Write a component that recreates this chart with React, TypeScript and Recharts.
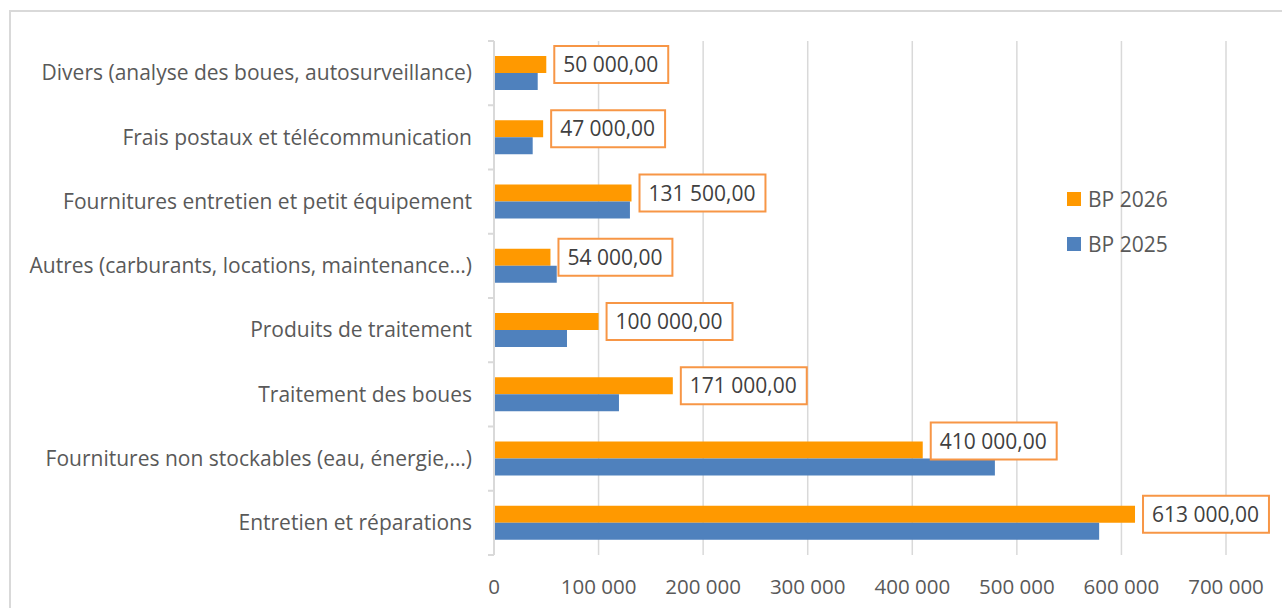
import React from "react";
import { BarChart, Bar, XAxis, YAxis, CartesianGrid, Legend, LabelList } from "recharts";

const CATEGORIES = [
  "Divers (analyse des boues, autosurveillance)",
  "Frais postaux et télécommunication",
  "Fournitures entretien et petit équipement",
  "Autres (carburants, locations, maintenance…)",
  "Produits de traitement",
  "Traitement des boues",
  "Fournitures non stockables (eau, énergie,…)",
  "Entretien et réparations",
];
const BP_2025 = [41800, 37000, 130000, 60000, 69800, 119500, 479000, 578700];
const BP_2026 = [50000, 47000, 131500, 54000, 100000, 171000, 410000, 613000];
const X_TICKS = [0, 100000, 200000, 300000, 400000, 500000, 600000, 700000];

const data = CATEGORIES.map((name, i) => ({ name, bp2025: BP_2025[i], bp2026: BP_2026[i] }));

const FONT = "'Open Sans', 'Noto Sans', sans-serif";
const TEXT = "#595959";
const GRID = "#d9d9d9";
const ORANGE = "#FF9900";
const BLUE = "#4F81BD";
const LABEL_BORDER = "#F79646";

const W = 1282;
const H = 608;
const M = { top: 41, right: 56, bottom: 28, left: 0 };
const X_AXIS_H = 25;
const PLOT_H = H - M.top - M.bottom - X_AXIS_H;
const BAND = PLOT_H / CATEGORIES.length;

const thousands = (n: number) => String(Math.round(n)).replace(/\B(?=(\d{3})+(?!\d))/g, " ");
const money = (n: number) => thousands(Math.floor(n)) + "," + String(Math.round((n % 1) * 100)).padStart(2, "0");

let ctx: CanvasRenderingContext2D | null = null;
const measure = (s: string, font: string) => {
  if (!ctx) ctx = document.createElement("canvas").getContext("2d");
  if (!ctx) return s.length * 10;
  ctx.font = font;
  return ctx.measureText(s).width;
};

const CategoryTick = (props: any) => {
  const { x, y, payload, index } = props;
  const axisX = x + 22;
  const last = index === CATEGORIES.length - 1;
  return (
    <g>
      <line x1={axisX - 6} x2={axisX} y1={y - BAND / 2} y2={y - BAND / 2} stroke={GRID} strokeWidth={2} />
      {last && <line x1={axisX - 6} x2={axisX} y1={y + BAND / 2} y2={y + BAND / 2} stroke={GRID} strokeWidth={2} />}
      <text x={x} y={y} dy="0.35em" textAnchor="end" fill={TEXT} fontSize={21} fontFamily={FONT}>
        {payload.value}
      </text>
    </g>
  );
};

// label sits on the BP 2025 bar so it is painted above both bars,
// but is placed next to the BP 2026 bar just above it
const ValueLabel = (props: any) => {
  const { x, y, width, height, index } = props;
  const v26 = BP_2026[index];
  const v25 = BP_2025[index];
  const w26 = (width * v26) / v25;
  const txt = money(v26);
  const fs = 21;
  const tw = measure(txt, `${fs}px 'Open Sans'`);
  const bx = x + w26 + 8;
  const bh = 37;
  let cy = y - height / 2;
  // if the blue bar runs under the box, lift the box clear of it
  if (x + width > bx) cy = Math.min(cy, y + 1 - bh / 2);
  return (
    <g>
      <rect x={bx} y={cy - bh / 2} width={tw + 19} height={bh} fill="#fff" stroke={LABEL_BORDER} strokeWidth={2} />
      <text x={bx + 9} y={cy} dy="0.36em" fill="#404040" fontSize={fs} fontFamily={FONT}>
        {txt}
      </text>
    </g>
  );
};

const LegendBox = (props: any) => {
  const items = (props.payload || []).slice().sort((a: any, b: any) => String(b.value).localeCompare(String(a.value)));
  return (
    <div style={{ fontFamily: FONT, fontSize: 21, color: TEXT }}>
      {items.map((it: any) => (
        <div key={it.value} style={{ display: "flex", alignItems: "center", height: 45 }}>
          <span style={{ width: 14, height: 14, background: it.color, display: "inline-block", marginRight: 7 }} />
          <span>{it.value}</span>
        </div>
      ))}
    </div>
  );
};

export default function App() {
  return (
    <div style={{ position: "absolute", left: 0, top: 0, width: W, height: H, overflow: "hidden", background: "#fff" }}>
      <div
        style={{
          position: "absolute",
          left: 9,
          top: 10,
          width: W + 20,
          height: H + 20,
          border: `2px solid ${GRID}`,
          boxSizing: "border-box",
        }}
      />
      <BarChart
        width={W}
        height={H}
        data={data}
        layout="vertical"
        margin={M}
        barSize={17}
        barGap={0}
        style={{ position: "absolute", left: 0, top: 0 }}
      >
        <CartesianGrid horizontal={false} stroke={GRID} strokeWidth={1.5} />
        <XAxis
          type="number"
          domain={[0, 700000]}
          ticks={X_TICKS}
          tickFormatter={thousands}
          axisLine={false}
          tickLine={false}
          tickSize={0}
          tickMargin={24}
          height={X_AXIS_H}
          tick={{ fill: TEXT, fontSize: 20.5, fontFamily: FONT }}
        />
        <YAxis
          type="category"
          dataKey="name"
          width={494}
          axisLine={{ stroke: GRID, strokeWidth: 2 }}
          tickLine={false}
          tickSize={0}
          tickMargin={22}
          interval={0}
          tick={<CategoryTick />}
        />
        <Legend
          layout="vertical"
          align="center"
          verticalAlign="middle"
          content={<LegendBox />}
          wrapperStyle={{ position: "absolute", left: 1067, top: 176, width: 150, height: 90 }}
        />
        <Bar dataKey="bp2026" name="BP 2026" fill={ORANGE} isAnimationActive={false} />
        <Bar dataKey="bp2025" name="BP 2025" fill={BLUE} isAnimationActive={false}>
          <LabelList dataKey="bp2026" content={<ValueLabel />} />
        </Bar>
      </BarChart>
    </div>
  );
}
